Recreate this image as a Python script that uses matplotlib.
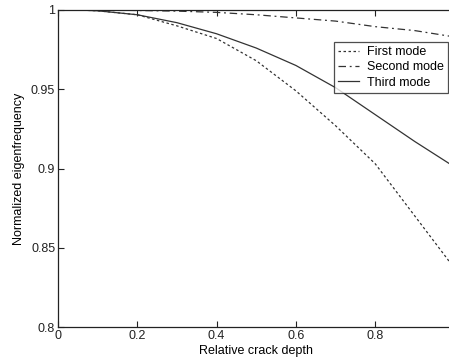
import matplotlib
matplotlib.use("Agg")
import matplotlib.pyplot as plt

# relative crack depth and normalized eigenfrequencies
depth = [0.05, 0.1, 0.2, 0.3, 0.4, 0.5, 0.6, 0.7, 0.8, 0.9, 1.0]
first_mode = [1.0, 0.9995, 0.997, 0.990, 0.982, 0.968, 0.949, 0.927, 0.903, 0.870, 0.837]
second_mode = [1.0, 1.0, 0.9997, 0.9993, 0.9985, 0.997, 0.995, 0.993, 0.9895, 0.987, 0.983]
third_mode = [1.0, 0.9995, 0.997, 0.992, 0.985, 0.976, 0.965, 0.951, 0.934, 0.917, 0.901]

x_ticks = [0, 0.2, 0.4, 0.6, 0.8]
x_tick_labels = ["0", "0.2", "0.4", "0.6", "0.8"]
y_ticks = [0.8, 0.85, 0.9, 0.95, 1.0]
y_tick_labels = ["0.8", "0.85", "0.9", "0.95", "1"]

plt.rcParams["font.family"] = ["Liberation Sans", "DejaVu Sans"]

fig = plt.figure(figsize=(4.49, 3.61), dpi=100)
ax = fig.add_axes([58 / 449, 1 - 327 / 361, 396.5 / 449, 317 / 361])

ax.plot(depth, first_mode, color="#333333", linestyle=(0, (2, 2)), linewidth=0.9, label="First mode")
ax.plot(depth, second_mode, color="#333333", linestyle=(0, (6, 3, 1.5, 3)), linewidth=0.9, label="Second mode")
ax.plot(depth, third_mode, color="#333333", linestyle="-", linewidth=0.9, label="Third mode")

ax.set_xlim(0, 1)
ax.set_ylim(0.8, 1.0)
ax.set_xticks(x_ticks)
ax.set_xticklabels(x_tick_labels)
ax.set_yticks(y_ticks)
ax.set_yticklabels(y_tick_labels)
ax.tick_params(direction="in", top=True, right=True, labelsize=9, length=4, width=0.8,
               colors="#222222", pad=2)
for spine in ax.spines.values():
    spine.set_linewidth(0.9)
    spine.set_color("#222222")

ax.set_xlabel("Relative crack depth", fontsize=9, labelpad=2)
ax.set_ylabel("Normalized eigenfrequency", fontsize=9, labelpad=4)

leg = ax.legend(loc="upper right", bbox_to_anchor=(448 / 449, 1 - 42 / 361),
                bbox_transform=fig.transFigure, fontsize=9, frameon=True, fancybox=False,
                handlelength=1.7, handletextpad=0.6, borderpad=0.35, labelspacing=0.25,
                borderaxespad=0)
leg.get_frame().set_edgecolor("#222222")
leg.get_frame().set_linewidth(0.9)

fig.savefig("out.png", dpi=100)
